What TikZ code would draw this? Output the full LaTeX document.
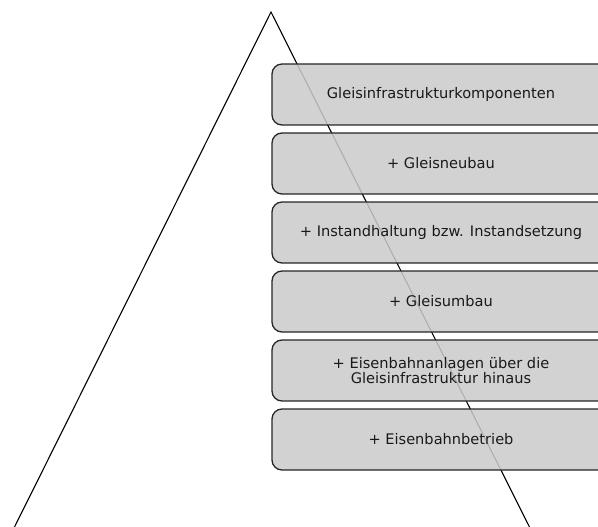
\documentclass[tikz,border=0pt]{standalone}
\usepackage{fontspec}
\setmainfont{DejaVu Sans}
\begin{document}
\begin{tikzpicture}[x=1pt,y=-1pt,
  layer/.style={draw=black!85, line width=1.3pt, rounded corners=10pt,
    fill={rgb,255:red,203;green,203;blue,203}, fill opacity=0.86, text opacity=1,
    minimum width=338pt, minimum height=61pt, inner sep=0pt, align=center,
    font=\fontsize{14.6}{14.6}\selectfont, text=black!90},
  edge/.style={draw=black, line width=1.1pt}]
  \useasboundingbox (0,0) rectangle (598,527);
  \clip (0,0) rectangle (598,527);
  % pyramid outline
  \coordinate (apex) at (271,12);
  \coordinate (baseL) at (13,530);
  \coordinate (baseR) at (531,530);
  \draw[edge] (baseL) -- (apex) -- (baseR);
  % stacked layers
  \node[layer] (l1) at (441,94.5)  {Gleisinfrastrukturkomponenten};
  \node[layer] (l2) at (441,163.5) {+ Gleisneubau};
  \node[layer] (l3) at (441,232.5) {+ Instandhaltung bzw. Instandsetzung};
  \node[layer] (l4) at (441,301.5) {+ Gleisumbau};
  \node[layer] (l5) at (441,370.5) {+ Eisenbahnanlagen über die\\Gleisinfrastruktur hinaus};
  \node[layer] (l6) at (441,439.5) {+ Eisenbahnbetrieb};
\end{tikzpicture}
\end{document}
